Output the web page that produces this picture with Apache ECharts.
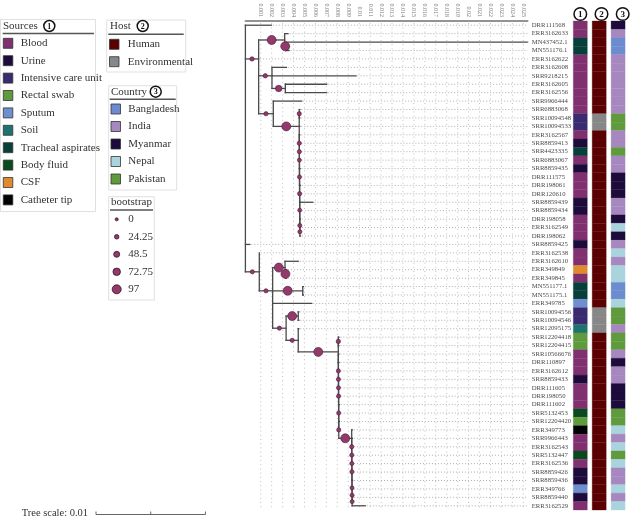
<!DOCTYPE html>
<html><head><meta charset="utf-8">
<script src="https://cdn.jsdelivr.net/npm/echarts@6/dist/echarts.min.js"></script>
<style>html,body{margin:0;padding:0;background:#fff}#c{width:630px;height:517px}</style>
</head><body><div id="c"></div><script>
// ================= DATA =================
const leafNames = ['DRR111568','ERR3162633','MN437452.1','MN551176.1','ERR3162622','ERR3162608','SRR9218215','ERR3162605','ERR3162556','SRR9966444','SRR6883068','SRR10094548','SRR10094533','ERR3162567','SRR8859413','SRR4423335','SRR6883067','SRR8859435','DRR111575','DRR198061','DRR120610','SRR8859439','SRR8859434','DRR198058','ERR3162549','DRR198062','SRR8859425','ERR3162538','ERR3162610','ERR349849','ERR349845','MN551177.1','MN551175.1','ERR349785','SRR10094556','SRR10094546','SRR12095175','SRR12204418','SRR12204415','SRR10566676','DRR110897','ERR3162612','SRR8859433','DRR111605','DRR198050','DRR111602','SRR5132453','SRR12204420','ERR349773','SRR9966443','ERR3162543','SRR5132447','ERR3162536','SRR8859426','SRR8859436','ERR349766','SRR8859440','ERR3162529'];
const leafSource = ['Blood','Blood','Tracheal aspirates','Tracheal aspirates','Blood','Blood','Blood','Blood','Blood','Blood','Blood','Intensive care unit','Intensive care unit','Blood','Urine','Tracheal aspirates','Blood','Urine','Blood','Blood','Blood','Urine','Urine','Blood','Blood','Blood','Urine','Blood','Blood','CSF','Blood','Tracheal aspirates','Tracheal aspirates','Sputum','Intensive care unit','Intensive care unit','Soil','Rectal swab','Rectal swab','Blood','Blood','Blood','Urine','Blood','Blood','Blood','Body fluid','Rectal swab','Catheter tip','Blood','Blood','Body fluid','Blood','Urine','Urine','Sputum','Urine','Blood'];
const leafHost = ['Human','Human','Human','Human','Human','Human','Human','Human','Human','Human','Human','Environmental','Environmental','Human','Human','Human','Human','Human','Human','Human','Human','Human','Human','Human','Human','Human','Human','Human','Human','Human','Human','Human','Human','Human','Environmental','Environmental','Environmental','Human','Human','Human','Human','Human','Human','Human','Human','Human','Human','Human','Human','Human','Human','Human','Human','Human','Human','Human','Human','Human'];
const leafCountry = ['Myanmar','India','Bangladesh','Bangladesh','India','India','India','India','India','India','India','Pakistan','Pakistan','India','India','Pakistan','India','India','Myanmar','Myanmar','Myanmar','India','India','Myanmar','Nepal','Myanmar','India','Nepal','India','Nepal','Nepal','Bangladesh','Bangladesh','Nepal','Pakistan','Pakistan','India','Pakistan','Pakistan','India','Myanmar','India','India','Myanmar','Myanmar','Myanmar','Pakistan','Pakistan','Nepal','India','Nepal','Pakistan','Nepal','India','India','Nepal','India','Nepal'];

const sourceCats = ['Blood','Urine','Intensive care unit','Rectal swab','Sputum','Soil','Tracheal aspirates','Body fluid','CSF','Catheter tip'];
const sourceColors = ['#80306f','#1c0b3b','#3a2a6f','#5f9a3d','#6d8ecf','#1f726d','#083f3a','#0b4a1f','#df8a2c','#000000'];
const hostCats = ['Human','Environmental'];
const hostColors = ['#5a0000','#878787'];
const countryCats = ['Bangladesh','India','Myanmar','Nepal','Pakistan'];
const countryColors = ['#6b8cce','#a687bf','#1c0b3b','#a9d4dd','#5f9a3d'];
const bootstrapLegend = [0, 24.25, 48.5, 72.75, 97];
const xTicks = [0.001,0.002,0.003,0.004,0.005,0.006,0.007,0.008,0.009,0.01,0.011,0.012,0.013,0.014,0.015,0.016,0.017,0.018,0.019,0.02,0.021,0.022,0.023,0.024,0.025];
const treeScaleValue = 0.01;

// tree (Newick pieces): label after ')' = bootstrap, ':' = branch length
const L0 = '0.00005', d = '0.000005';
const cladeC = '(ERR3162633:0.0003,(MN437452.1:0.02206,MN551176.1:0.0003)97:0.0001)97:0.00238';
const cladeE = '(ERR3162608:0.00131,SRR9218215:0.00768,(ERR3162605:0.00378,ERR3162556:0.00378)55:0.00122)22:0.00122';
const cladeH2 = '(ERR3162567:'+L0+',(SRR8859413:'+L0+',(SRR4423335:'+L0+',(SRR6883067:'+L0+',(SRR8859435:'+L0+',(DRR111575:'+L0+',(DRR198061:'+L0+',(DRR120610:'+L0+',(SRR8859439:0.0012,(SRR8859434:'+L0+',(DRR198058:'+L0+',(ERR3162549:'+L0+',DRR198062:'+L0+')18:'+d+')18:'+d+')-:'+d+')15:'+d+')-:'+d+')20:'+d+')-:'+d+')18:'+d+')-:'+d+')16:'+d+')18:'+d+')20:'+d;
const cladeH = '((SRR6883068:'+L0+',SRR10094548:'+L0+')20:'+d+',SRR10094533:'+L0+','+cladeH2+')97:0.00237';
const cladeG = '(SRR9966444:0.00259,'+cladeH+')20:0.00134';
const cladeF = '('+cladeC+',ERR3162622:0,'+cladeE+','+cladeG+')22:0.00121';
const cladeK = '(ERR3162610:0.00121,(ERR349849:'+L0+',ERR349845:'+L0+')97:0.00008)97:0.00113';
const cladeM = '(MN551177.1:'+L0+',MN551175.1:'+L0+')97:0.00275';
const cladeN = '(SRR10094556:'+L0+',SRR10094546:'+L0+')97:0.00111';
const cladeS = '(ERR349773:'+L0+',(SRR9966443:'+L0+',(ERR3162543:'+L0+',(SRR5132447:'+L0+',(ERR3162536:'+L0+',(SRR8859426:'+L0+',(SRR8859436:'+L0+',(ERR349766:'+L0+',(SRR8859440:'+L0+',ERR3162529:0.0012)18:'+d+')18:'+d+')16:'+d+')-:'+d+')18:'+d+')18:'+d+')18:'+d+')20:'+d+')97:0.00118';
const cladeRb = '(SRR10566676:'+L0+',(DRR110897:'+L0+',(ERR3162612:'+L0+',(SRR8859433:'+L0+',(DRR111605:'+L0+',(DRR198050:'+L0+',(DRR111602:'+L0+',(SRR5132453:'+L0+',(SRR12204420:'+L0+','+cladeS+')20:'+d+')-:'+d+')18:'+d+')-:'+d+')18:'+d+')18:'+d+')18:'+d+')18:'+d+')-:'+d;
const cladeR = '((SRR12204418:'+L0+',SRR12204415:'+L0+')22:'+d+','+cladeRb+')97:0.00366';
const cladeQ = '(SRR12095175:'+L0+','+cladeR+')20:0.00111';
const cladeO = '('+cladeN+','+cladeQ+')20:0.00123';
const cladeJ = '('+cladeK+','+cladeM+',ERR349785:0.00357,'+cladeO+')20:0.00122';
const cladeP = '(ERR3162538:0,'+cladeJ+')20:0.00127';
const treeNewick = '(DRR111568:0.00237,'+cladeF+',SRR8859425:0.0004,'+cladeP+');';
const ROOT_X = -0.0004, X_MAX = 0.0254;

// ================= TREE LAYOUT =================
function parseNewick(s){
  let i=0;
  function node(){
    const n={children:[]};
    if(s[i]==='('){ i++; while(true){ n.children.push(node()); if(s[i]===','){i++;continue;} break; } i++; }
    let lab=''; while(i<s.length && ',():;'.indexOf(s[i])<0) lab+=s[i++];
    n.label=lab;
    n.len=0;
    if(s[i]===':'){ i++; let l=''; while(i<s.length && ',();'.indexOf(s[i])<0) l+=s[i++]; n.len=parseFloat(l); }
    return n;
  }
  return node();
}
const tree = parseNewick(treeNewick);
let leafIdx=0;
const segs=[], dots=[], tips=[], leafOrder=[];
function layout(n, px, parent){
  n.x = px + n.len;
  if(!n.children.length){ n.y = leafIdx++; leafOrder.push(n.label); }
  else {
    n.children.forEach(c=>layout(c, n.x, n));
    const k=n.children.length;
    n.y = k===2 ? (n.children[0].y+n.children[1].y)/2 : n.children[Math.floor((k-1)/2)].y;
    segs.push([n.x, n.children[0].y, n.x, n.children[k-1].y]);
  }
  if(parent){
    segs.push([px, n.y, n.x, n.y]);
    const bs=parseFloat(n.label);
    if(n.children.length && isFinite(bs)) dots.push([(px+n.x)/2, n.y, bs]);
  }
  if(!n.children.length) tips.push([n.x, n.y]);
}
layout(tree, ROOT_X, null);

const heatData=[], heatColors=[];
leafNames.forEach((nm,i)=>{
  heatData.push([0,i]); heatColors.push(sourceColors[sourceCats.indexOf(leafSource[i])]);
  heatData.push([1,i]); heatColors.push(hostColors[hostCats.indexOf(leafHost[i])]);
  heatData.push([2,i]); heatColors.push(countryColors[countryCats.indexOf(leafCountry[i])]);
});

// ================= CHART =================
const FONT = "'Liberation Serif','DejaVu Serif',serif";
const chart = echarts.init(document.getElementById('c'), null, {renderer:'canvas', width:630, height:517});
const bsSize = v => 3 + 6*v/97;
const N = leafNames.length;

const option = {
  animation:false,
  backgroundColor:'#fff',
  grid:[
    {left:245.4, top:21, width:282.3, height:489},
    {left:573.3, top:21, width:63.6, height:489}
  ],
  xAxis:[
    {gridIndex:0, type:'value', position:'top', min:ROOT_X, max:X_MAX,
     axisLine:{show:true, onZero:false, lineStyle:{color:'#707070', width:1.6}},
     axisTick:{show:false}, splitLine:{show:false},
     axisLabel:{customValues:xTicks, rotate:90, fontSize:6, color:'#777', fontFamily:FONT, margin:4,
       formatter:v=>String(parseFloat((+v).toFixed(3)))}},
    {gridIndex:1, type:'value', min:0, max:3, show:false}
  ],
  yAxis:[
    {gridIndex:0, type:'value', inverse:true, min:-0.5, max:N-0.5, show:false},
    {gridIndex:0, type:'category', data:leafNames, inverse:true, position:'right',
     axisLine:{show:false}, axisTick:{show:false}, splitLine:{show:false},
     axisLabel:{interval:0, fontSize:6.7, color:'#4a4a4a', fontFamily:FONT, margin:4}},
    {gridIndex:1, type:'value', inverse:true, min:-0.5, max:N-0.5, show:false}
  ],
  series:[
    {type:'custom', name:'vgrid', xAxisIndex:0, yAxisIndex:0, silent:true, z:1,
     data:xTicks.map(v=>[v]),
     renderItem:(p,api)=>{const a=api.coord([api.value(0),0]); const b=api.coord([api.value(0),N-1]);
       return {type:'line', shape:{x1:a[0],y1:a[1]-2,x2:b[0],y2:b[1]+2}, style:{stroke:'#b0b0b0', lineWidth:0.8, lineDash:[1,3.2]}};}},
    {type:'custom', name:'rows', xAxisIndex:0, yAxisIndex:0, silent:true, z:2,
     data:tips,
     renderItem:(p,api)=>{const a=api.coord([api.value(0),api.value(1)]); const b=api.coord([X_MAX,api.value(1)]);
       return {type:'line', shape:{x1:a[0]+1.5,y1:a[1],x2:b[0],y2:b[1]}, style:{stroke:'#999', lineWidth:0.8, lineDash:[1,2]}};}},
    {type:'custom', name:'branches', xAxisIndex:0, yAxisIndex:0, silent:true, z:3,
     data:segs,
     renderItem:(p,api)=>{const a=api.coord([api.value(0),api.value(1)]); const b=api.coord([api.value(2),api.value(3)]);
       return {type:'line', shape:{x1:a[0],y1:a[1],x2:b[0],y2:b[1]}, style:{stroke:'#4a4a4a', lineWidth:1.3, lineCap:'square'}};}},
    {type:'scatter', name:'bootstrap', xAxisIndex:0, yAxisIndex:0, z:4, data:dots,
     symbolSize:v=>bsSize(v[2]),
     itemStyle:{color:'#933a6c', borderColor:'#4b1535', borderWidth:0.6, opacity:1}},
    {type:'custom', name:'heat', xAxisIndex:1, yAxisIndex:2, silent:true, data:heatData,
     renderItem:(p,api)=>{const c=api.value(0), r=api.value(1);
       const a=api.coord([c,r-0.5]); const b=api.coord([c,r+0.5]);
       const col=heatColors[p.dataIndex];
       return {type:'rect', shape:{x:a[0],y:a[1],width:14,height:b[1]-a[1]}, style:{fill:col, stroke:col, lineWidth:0.3}};}}
  ]
};
chart.setOption(option);

// ================= LEGENDS / ANNOTATIONS =================
const g=[];
function box(x,y,w,h){g.push({type:'rect',shape:{x:x,y:y,width:w,height:h},style:{fill:'#fff',stroke:'#e0e0e0',lineWidth:1},z:1});}
function txt(x,y,t,size,opt){g.push(Object.assign({type:'text',x:x,y:y,z:3,style:{text:t,font:(size||11)+'px '+FONT,fill:'#333',align:'left',verticalAlign:'middle',textAlign:'left',textVerticalAlign:'middle'}},opt||{}));}
function uline(x1,x2,y){g.push({type:'line',shape:{x1:x1,y1:y,x2:x2,y2:y},style:{stroke:'#555',lineWidth:1.5},z:2});}
function circNum(cx,cy,n,r){
  g.push({type:'circle',shape:{cx:cx,cy:cy,r:r},style:{fill:'#fff',stroke:'#111',lineWidth:1.5},z:3});
  g.push({type:'text',x:cx,y:cy+0.5,z:4,style:{text:String(n),font:'bold '+(r*1.45).toFixed(1)+'px '+FONT,fill:'#111',align:'center',verticalAlign:'middle',textAlign:'center',textVerticalAlign:'middle'}});
}
function swatch(x,y,c){g.push({type:'rect',shape:{x:x,y:y-5,width:9.5,height:10},style:{fill:c,stroke:'#333',lineWidth:0.8},z:3});}

// Sources
box(0.5,19.5,95,192);
txt(3,26,'Sources',11); circNum(49.3,26,1,5.5); uline(2.7,94,33.5);
sourceCats.forEach((s,k)=>{const y=43.3+k*17.4; swatch(3.3,y,sourceColors[k]); txt(20.7,y,s,11);});
// Host
box(106.7,20,79,52);
txt(110,26,'Host',11); circNum(142.7,26,2,5.5); uline(108.3,183.7,34.3);
hostCats.forEach((s,k)=>{const y=44.3+k*17.4; swatch(109.5,y,hostColors[k]); txt(127.7,y,s,11);});
// Country
box(108.7,85.7,68,104.3);
txt(111,91.7,'Country',11); circNum(155.7,91.7,3,5.5); uline(109.7,175.7,99.3);
countryCats.forEach((s,k)=>{const y=109+k*17.5; swatch(111,y,countryColors[k]); txt(128.3,y,s,11);});
// bootstrap
box(108.7,196.7,45.6,103.3);
txt(111,202.5,'bootstrap',11); uline(110,153,210);
bootstrapLegend.forEach((v,k)=>{const y=219.3+k*17.5;
  g.push({type:'circle',shape:{cx:116.7,cy:y,r:bsSize(v)/2},style:{fill:'#933a6c',stroke:'#3a1028',lineWidth:0.8},z:3});
  txt(128.3,y,String(v),11);});
// column headers
circNum(580.3,14,1,6.3); circNum(601.5,14,2,6.3); circNum(622.7,14,3,6.3);
// tree scale
const px0 = chart.convertToPixel({xAxisIndex:0}, 0);
const px1 = chart.convertToPixel({xAxisIndex:0}, treeScaleValue);
const Lsc = px1 - px0;
txt(21.7,513.3,'Tree scale: '+treeScaleValue,10.5);
const bx=96, by=514.5;
g.push({type:'line',shape:{x1:bx,y1:by,x2:bx+Lsc,y2:by},style:{stroke:'#666',lineWidth:1},z:3});
[0,0.5,1].forEach(f=>g.push({type:'line',shape:{x1:bx+Lsc*f,y1:by-3,x2:bx+Lsc*f,y2:by},style:{stroke:'#666',lineWidth:1},z:3}));

chart.setOption({graphic:{elements:g}});
</script></body></html>
